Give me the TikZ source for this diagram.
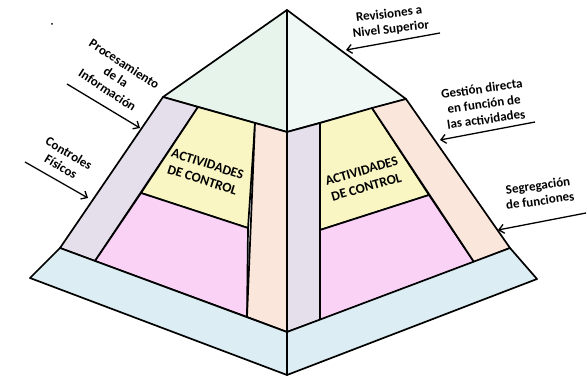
\documentclass[tikz,border=0pt]{standalone}
\usepackage{fontspec}
\setmainfont{Carlito}
\usetikzlibrary{arrows.meta}

\definecolor{capmint}{HTML}{E6F4EC}
\definecolor{capmintlt}{HTML}{EFF8F4}
\definecolor{lavender}{HTML}{E4DFEB}
\definecolor{paleyellow}{HTML}{FAF6C4}
\definecolor{palepink}{HTML}{F9D2F6}
\definecolor{peach}{HTML}{FBE6DC}
\definecolor{iceblue}{HTML}{DCEEF3}

\begin{document}
\begin{tikzpicture}[x=1pt,y=-1pt,line join=round,
    face/.style={draw=black,line width=1.7pt},
    lbl/.style={font=\fontsize{13}{15.5}\selectfont\bfseries,align=center,inner sep=0pt},
    actlbl/.style={font=\fontsize{13.5}{17}\selectfont\bfseries,align=center,inner sep=0pt},
    ptr/.style={-{Straight Barb[length=5pt,width=9pt]},line width=1.3pt}]
  \useasboundingbox (0,0) rectangle (587,377);

  % corners of the pyramid
  \coordinate (apex) at (287,10);
  \coordinate (capL) at (163,97);
  \coordinate (capC) at (287,132);
  \coordinate (capR) at (406,99);
  \coordinate (baseL) at (60,248);
  \coordinate (baseC) at (287,332);
  \coordinate (baseR) at (510,248);
  \coordinate (footL) at (30,278);
  \coordinate (footC) at (287,375);
  \coordinate (footR) at (537,279);
  % inner lines, left face
  \coordinate (inL1) at (198,107);
  \coordinate (inL2) at (95,261);
  \coordinate (vL1) at (255,123);
  \coordinate (vL2) at (247,317);
  \coordinate (dL1) at (141,193);
  \coordinate (dL2) at (248,228);
  % inner lines, right face
  \coordinate (vR1) at (320,123);
  \coordinate (vR2) at (320,320);
  \coordinate (inR1) at (372,108);
  \coordinate (inR2) at (474,262);
  \coordinate (dR1) at (320,230);
  \coordinate (dR2) at (429,195);

  % top
  \draw[face,fill=capmint] (apex) -- (capL) -- (capC) -- cycle;
  \draw[face,fill=capmintlt] (apex) -- (capC) -- (capR) -- cycle;
  % left face
  \draw[face,fill=lavender] (capL) -- (inL1) -- (inL2) -- (baseL) -- cycle;
  \draw[face,fill=paleyellow] (inL1) -- (vL1) -- (dL2) -- (dL1) -- cycle;
  \draw[face,fill=palepink] (dL1) -- (dL2) -- (vL2) -- (inL2) -- cycle;
  \draw[face,fill=peach] (vL1) -- (capC) -- (baseC) -- (vL2) -- cycle;
  % right face
  \draw[face,fill=lavender] (capC) -- (vR1) -- (vR2) -- (baseC) -- cycle;
  \draw[face,fill=paleyellow] (vR1) -- (inR1) -- (dR2) -- (dR1) -- cycle;
  \draw[face,fill=palepink] (dR1) -- (dR2) -- (inR2) -- (vR2) -- cycle;
  \draw[face,fill=peach] (inR1) -- (capR) -- (baseR) -- (inR2) -- cycle;
  % base
  \draw[face,fill=iceblue] (baseL) -- (baseC) -- (footC) -- (footL) -- cycle;
  \draw[face,fill=iceblue] (baseC) -- (baseR) -- (footR) -- (footC) -- cycle;

  \node[actlbl,rotate=-18] (actL) at (205,172) {ACTIVIDADES\\DE CONTROL};
  \node[actlbl,rotate=16] (actR) at (364,179) {ACTIVIDADES\\DE CONTROL};

  % labels round the pyramid
  \node[lbl,rotate=7] (rev) at (390,22) {Revisiones a\\Nivel Superior};
  \node[lbl,rotate=8] (ges) at (484,104) {Gestión directa\\en función de\\las actividades};
  \node[lbl,rotate=8] (seg) at (539,193) {Segregación\\de funciones};
  \node[lbl,rotate=-33] (pro) at (116,77) {Procesamiento\\de la\\Información};
  \node[lbl,rotate=-31] (con) at (65,160) {Controles\\Físicos};

  \coordinate (revS) at (440,33);   \coordinate (revE) at (346,50);
  \coordinate (gesS) at (535,122);  \coordinate (gesE) at (440,140);
  \coordinate (segS) at (586,213);  \coordinate (segE) at (498,230);
  \coordinate (proS) at (67,84);    \coordinate (proE) at (140,128);
  \coordinate (conS) at (25,162);   \coordinate (conE) at (88,198);
  \foreach \a in {rev,ges,seg,pro,con}
    \draw[ptr] (\a S) -- (\a E);

  \fill (52,24) circle (1pt);
\end{tikzpicture}
\end{document}
